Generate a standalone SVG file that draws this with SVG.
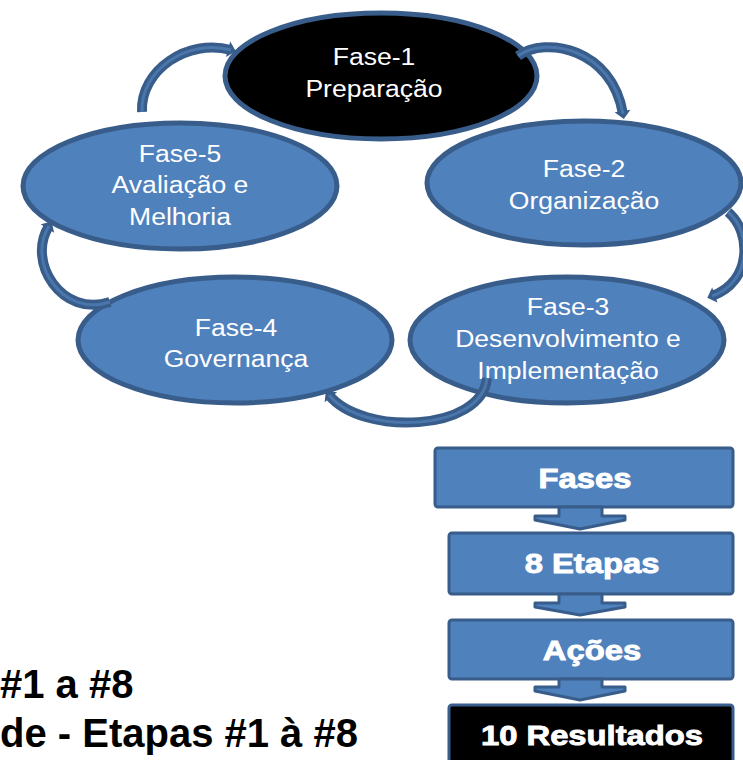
<svg xmlns="http://www.w3.org/2000/svg" width="743" height="760" viewBox="0 0 743 760">
<style>
.ell{fill:#4f81bd;stroke:#385d8a;stroke-width:5}
.ell.dark{fill:#000000}
.lbl{font-family:"Liberation Sans",Arial,sans-serif;font-size:23.5px;fill:#ffffff;text-anchor:middle}
.box{fill:#4f81bd;stroke:#385d8a;stroke-width:3}
.box.dark{fill:#000000}
.blbl{font-family:"Liberation Sans",Arial,sans-serif;font-weight:bold;font-size:28px;fill:#ffffff;stroke:#ffffff;stroke-width:0.9;text-anchor:middle}
.blk{fill:#4f81bd;stroke:#385d8a;stroke-width:3;stroke-linejoin:round}
.arr-o{fill:none;stroke:#385d8a;stroke-width:10;stroke-linecap:butt}
.arr-i{fill:none;stroke:#4a76ab;stroke-width:3}
.big{font-family:"Liberation Sans",Arial,sans-serif;font-weight:bold;font-size:40px;fill:#000000}
</style>
<defs>
<marker id="ah" markerUnits="userSpaceOnUse" markerWidth="20" markerHeight="20" refX="3" refY="0" viewBox="-2 -10 16 20" orient="auto">
<path d="M0,-8 L8,0 L0,8 Z" fill="#385d8a"/>
</marker>
</defs>

<g id="fase1">
<ellipse class="ell dark" cx="381" cy="76" rx="156" ry="63"/>
<text class="lbl" transform="translate(374,0) scale(1.13,1)" x="0" y="65">Fase-1</text>
<text class="lbl" transform="translate(374,0) scale(1.13,1)" x="0" y="97">Preparação</text>
</g>
<g id="fase2">
<ellipse class="ell" cx="584" cy="183" rx="157" ry="62"/>
<text class="lbl" transform="translate(584,0) scale(1.13,1)" x="0" y="177">Fase-2</text>
<text class="lbl" transform="translate(584,0) scale(1.13,1)" x="0" y="209">Organização</text>
</g>
<g id="fase3">
<ellipse class="ell" cx="567" cy="340" rx="157" ry="63"/>
<text class="lbl" transform="translate(568,0) scale(1.13,1)" x="0" y="315">Fase-3</text>
<text class="lbl" transform="translate(568,0) scale(1.13,1)" x="0" y="347">Desenvolvimento e</text>
<text class="lbl" transform="translate(568,0) scale(1.13,1)" x="0" y="379">Implementação</text>
</g>
<g id="fase4">
<ellipse class="ell" cx="235" cy="340" rx="157" ry="63"/>
<text class="lbl" transform="translate(236,0) scale(1.13,1)" x="0" y="336">Fase-4</text>
<text class="lbl" transform="translate(236,0) scale(1.13,1)" x="0" y="367">Governança</text>
</g>
<g id="fase5">
<ellipse class="ell" cx="180" cy="186" rx="157" ry="63"/>
<text class="lbl" transform="translate(180,0) scale(1.13,1)" x="0" y="162">Fase-5</text>
<text class="lbl" transform="translate(180,0) scale(1.13,1)" x="0" y="193">Avaliação e</text>
<text class="lbl" transform="translate(180,0) scale(1.13,1)" x="0" y="225">Melhoria</text>
</g>

<g id="connectors">
<path class="arr-o" d="M518,56 C545,36 612,48 623,114" marker-end="url(#ah)"/>
<path class="arr-i" d="M518,56 C545,36 612,48 623,114"/>
<path class="arr-o" d="M728,212 C752,232 752,282 712,296" marker-end="url(#ah)"/>
<path class="arr-i" d="M728,212 C752,232 752,282 712,296"/>
<path class="arr-o" d="M487,378 C482,432 362,436 329,395" marker-end="url(#ah)"/>
<path class="arr-i" d="M487,378 C482,432 362,436 329,395"/>
<path class="arr-o" d="M110,302 C62,318 26,262 49,226" marker-end="url(#ah)"/>
<path class="arr-i" d="M110,302 C62,318 26,262 49,226"/>
<path class="arr-o" d="M142,112 C140,70 188,38 231,50" marker-end="url(#ah)"/>
<path class="arr-i" d="M142,112 C140,70 188,38 231,50"/>
</g>

<g id="fases">
<rect class="box" x="435" y="448" width="298" height="59" rx="3"/>
<text class="blbl" transform="translate(585,0) scale(1.17,1)" x="0" y="488">Fases</text>
</g>
<g id="seta1">
<path class="blk" d="M559,507 L602,507 L602,516 L625,516 L625,520 L580,529 L535,520 L535,516 L559,516 Z"/>
</g>
<g id="etapas">
<rect class="box" x="449" y="533" width="284" height="61" rx="3"/>
<text class="blbl" transform="translate(592,0) scale(1.17,1)" x="0" y="573">8 Etapas</text>
</g>
<g id="seta2">
<path class="blk" d="M559,594 L602,594 L602,603 L625,603 L625,607 L580,615 L535,607 L535,603 L559,603 Z"/>
</g>
<g id="acoes">
<rect class="box" x="449" y="620" width="284" height="59" rx="3"/>
<text class="blbl" transform="translate(592,0) scale(1.17,1)" x="0" y="660">Ações</text>
</g>
<g id="seta3">
<path class="blk" d="M559,679 L602,679 L602,687 L625,687 L625,691 L580,700 L535,691 L535,687 L559,687 Z"/>
</g>
<g id="resultados">
<rect class="box dark" x="449" y="705" width="284" height="70" rx="3"/>
<text class="blbl" transform="translate(592,0) scale(1.17,1)" x="0" y="745">10 Resultados</text>
</g>

<g id="texto">
<text class="big" x="0" y="698">#1 a #8</text>
<text class="big" x="0" y="747">de - Etapas #1 à #8</text>
</g>
</svg>
